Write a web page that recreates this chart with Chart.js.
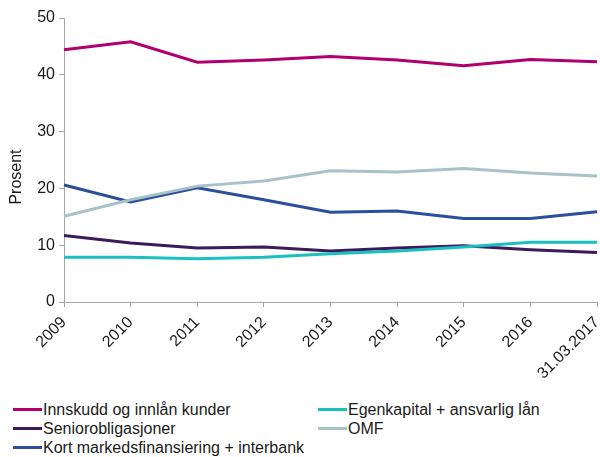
<!DOCTYPE html>
<html>
<head>
<meta charset="utf-8">
<script src="https://cdn.jsdelivr.net/npm/chart.js@4.4.1/dist/chart.umd.min.js"></script>
<style>
    body { margin: 0; background: #fff; font-family: "Liberation Sans", Arial, sans-serif; }
    .wrap { position: relative; width: 600px; height: 457px; }
    .chart-box { position: absolute; left: 0; top: 0; width: 600px; height: 400px; }
    .legend { position: absolute; left: 0; top: 400px; width: 600px; font-size: 16px; color: #1a1a1a; }
    .legend-item { position: absolute; height: 19px; line-height: 19px; white-space: nowrap; }
    .legend-item .swatch { display: inline-block; width: 29px; height: 3px; vertical-align: middle; margin-right: 1px; position: relative; top: -1px; }
</style>
</head>
<body>
<div class="wrap">
    <div class="chart-box"><canvas id="fundingChart"></canvas></div>
    <div class="legend" id="legend"></div>
</div>
<script>
const years = ['2009', '2010', '2011', '2012', '2013', '2014', '2015', '2016', '31.03.2017'];
const yTicks = [0, 10, 20, 30, 40, 50];

const innskudd = [44.4, 45.8, 42.2, 42.6, 43.2, 42.6, 41.6, 42.7, 42.3];
const egenkapital = [7.9, 7.9, 7.6, 7.9, 8.5, 9.0, 9.7, 10.5, 10.5];
const senior = [11.7, 10.4, 9.5, 9.7, 9.0, 9.5, 9.9, 9.2, 8.7];
const omf = [15.1, 18.0, 20.4, 21.3, 23.1, 22.9, 23.5, 22.7, 22.2];
const kort = [20.6, 17.6, 20.1, 18.0, 15.8, 16.0, 14.7, 14.7, 15.9];

const series = [
    { label: 'Innskudd og innlån kunder', data: innskudd, color: '#b1006e', col: 0, row: 0 },
    { label: 'Egenkapital + ansvarlig lån', data: egenkapital, color: '#1bbfc0', col: 1, row: 0 },
    { label: 'Seniorobligasjoner', data: senior, color: '#3b1b5c', col: 0, row: 1 },
    { label: 'OMF', data: omf, color: '#a8c3c7', col: 1, row: 1 },
    { label: 'Kort markedsfinansiering + interbank', data: kort, color: '#2b4f9d', col: 0, row: 2 }
];

const axisColor = '#a6a6a6';
const textColor = '#1a1a1a';
const fontSpec = { family: '"Liberation Sans", Arial, sans-serif', size: 16 };

// y-axis caption, drawn by hand so it can sit a little below the middle
const yTitlePlugin = {
    id: 'yTitle',
    afterDraw(chart) {
        const ctx = chart.ctx;
        ctx.save();
        ctx.translate(17, 177);
        ctx.rotate(-Math.PI / 2);
        ctx.font = '16px "Liberation Sans", Arial, sans-serif';
        ctx.fillStyle = textColor;
        ctx.textAlign = 'center';
        ctx.textBaseline = 'middle';
        ctx.fillText('Prosent', 0, 0);
        ctx.restore();
    }
};

new Chart(document.getElementById('fundingChart'), {
    type: 'line',
    data: {
        labels: years,
        datasets: series.map((s, i) => ({
            label: s.label,
            data: s.data,
            borderColor: s.color,
            backgroundColor: s.color,
            borderWidth: 3,
            pointRadius: 0,
            tension: 0,
            order: i
        }))
    },
    options: {
        responsive: true,
        maintainAspectRatio: false,
        animation: false,
        layout: { padding: { top: 18, right: 3, left: 0, bottom: 0 } },
        plugins: {
            legend: { display: false },
            tooltip: { enabled: false }
        },
        scales: {
            x: {
                offset: false,
                grid: { drawOnChartArea: false, drawTicks: true, tickLength: 5, color: axisColor },
                border: { display: true, color: axisColor, width: 1 },
                ticks: {
                    color: textColor,
                    font: fontSpec,
                    minRotation: 45,
                    maxRotation: 45,
                    autoSkip: false,
                    padding: 6
                },
                afterFit(scale) {
                    scale.height = 98;
                    scale.paddingLeft = 0;
                    scale.paddingRight = 0;
                }
            },
            y: {
                min: 0,
                max: 50,
                afterBuildTicks(scale) {
                    scale.ticks = yTicks.map(v => ({ value: v }));
                },
                grid: { drawOnChartArea: false, drawTicks: true, tickLength: 5, color: axisColor },
                border: { display: true, color: axisColor, width: 1 },
                ticks: { color: textColor, font: fontSpec, padding: 4 },
                afterFit(scale) {
                    scale.width = 64;
                }
            }
        }
    },
    plugins: [yTitlePlugin]
});

// two-column legend under the plot
const legend = document.getElementById('legend');
series.forEach(s => {
    const item = document.createElement('div');
    item.className = 'legend-item';
    item.style.left = (s.col === 0 ? 13 : 318) + 'px';
    item.style.top = (s.row * 19) + 'px';
    item.innerHTML = '<span class="swatch" style="background:' + s.color + '"></span>' + s.label;
    legend.appendChild(item);
});
</script>
</body>
</html>
